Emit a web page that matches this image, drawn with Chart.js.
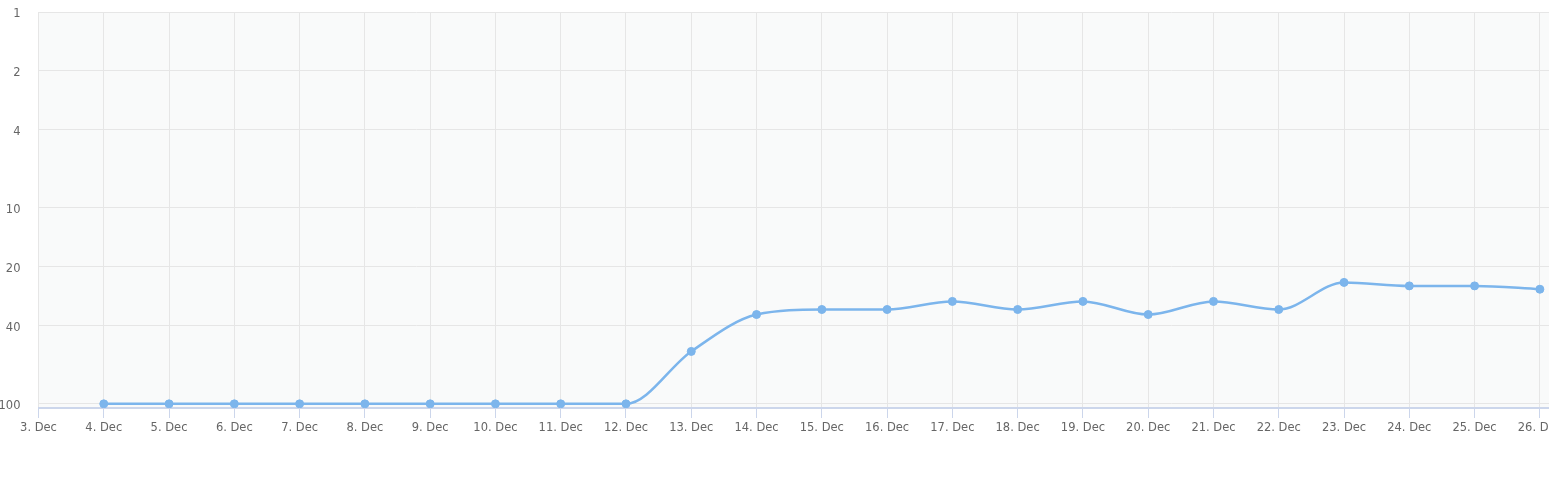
<!DOCTYPE html>
<html>
<head>
<meta charset="utf-8">
<script src="https://cdn.jsdelivr.net/npm/chart.js@4/dist/chart.umd.min.js"></script>
<style>
  html, body { margin: 0; padding: 0; background: #fff; }
  #wrap { width: 1549px; height: 488px; }
</style>
</head>
<body>
<div id="wrap"><canvas id="rankChart"></canvas></div>
<script>
// Días de diciembre y posición (eje log invertido)
const days = [4, 5, 6, 7, 8, 9, 10, 11, 12, 13, 14, 15, 16, 17, 18, 19, 20, 21, 22, 23, 24, 25, 26];
const positions = [100, 100, 100, 100, 100, 100, 100, 100, 100, 54, 35, 33, 33, 30, 33, 30, 35, 30, 33, 24, 25, 25, 26];
const yTicks = [1, 2, 4, 10, 20, 40, 100];
const monthName = 'Dec';

// Fondo gris claro del área de trazado
const plotBg = {
  id: 'plotBg',
  beforeDraw(chart) {
    const a = chart.chartArea;
    const ctx = chart.ctx;
    ctx.save();
    ctx.fillStyle = '#f9fafa';
    ctx.fillRect(a.left, a.top, a.right - a.left, a.bottom - a.top);
    ctx.restore();
  }
};

const rankChart = new Chart(document.getElementById('rankChart'), {
  type: 'line',
  data: {
    datasets: [{
      data: days.map((d, i) => ({ x: d, y: positions[i] })),
      borderColor: '#7cb5ec',
      backgroundColor: '#7cb5ec',
      borderWidth: 2.5,
      pointRadius: 4,
      pointBorderWidth: 1,
      pointHoverRadius: 5,
      cubicInterpolationMode: 'monotone',
      fill: false
    }]
  },
  options: {
    responsive: true,
    maintainAspectRatio: false,
    animation: false,
    layout: { autoPadding: false, padding: { top: 12, left: 0, right: 0, bottom: 0 } },
    plugins: {
      legend: { display: false },
      tooltip: { enabled: false }
    },
    scales: {
      x: {
        type: 'linear',
        min: 3,
        max: 26.14,
        afterBuildTicks: s => { s.ticks = []; for (let d = 3; d <= 26; d++) s.ticks.push({ value: d }); },
        afterFit: s => { s.height = 80; s.paddingLeft = 0; s.paddingRight = 0; },
        grid: { color: '#e6e6e6', tickColor: '#ccd6eb', tickLength: 10 },
        border: { color: '#ccd6eb', width: 2 },
        ticks: {
          autoSkip: false,
          maxRotation: 0,
          padding: 3,
          color: '#666666',
          font: { family: 'DejaVu Sans', size: 11.5 },
          callback: v => v + '. ' + monthName
        }
      },
      y: {
        type: 'logarithmic',
        reverse: true,
        min: 1,
        max: 105,
        afterBuildTicks: s => { s.ticks = yTicks.map(v => ({ value: v })); },
        afterFit: s => { s.width = 38.5; s.paddingTop = 0; s.paddingBottom = 0; },
        grid: { color: '#e6e6e6', drawTicks: false },
        border: { display: false },
        ticks: {
          padding: 18,
          labelOffset: 2,
          color: '#666666',
          font: { family: 'DejaVu Sans', size: 11.5 },
          callback: v => String(v)
        }
      }
    }
  },
  plugins: [plotBg]
});
</script>
</body>
</html>
